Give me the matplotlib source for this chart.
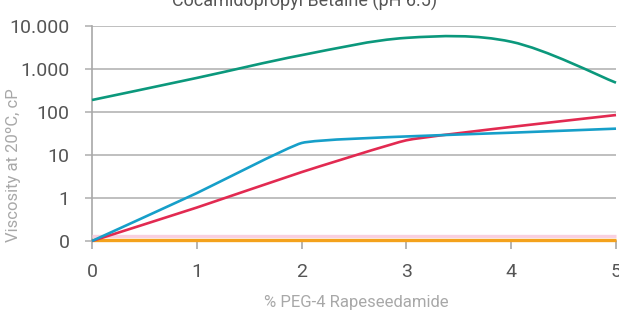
import numpy as np
import matplotlib
matplotlib.use("Agg")
import matplotlib.pyplot as plt
from matplotlib import font_manager
from matplotlib.path import Path
from matplotlib.patches import PathPatch

## Data (viscosity in cP, 0.1 stands for the "0" floor)
peg_pct = [0, 1, 2, 3, 4, 5]
visc_green = [190, 620, 2100, 5300, 4300, 480]
visc_blue = [0.1, 1.3, 19, 27, 33, 41]
visc_red = [0.1, 0.6, 4.0, 22, 45, 85]
visc_pink = [0.132, 0.132, 0.132, 0.132, 0.132, 0.132]
visc_orange = [0.104, 0.104, 0.104, 0.104, 0.104, 0.104]
y_ticks = [0.1, 1, 10, 100, 1000, 10000]
y_labels = ["0", "1", "10", "100", "1.000", "10.000"]

names = [f.name for f in font_manager.fontManager.ttflist]
fam = "Liberation Sans Narrow" if "Liberation Sans Narrow" in names else "Roboto"
plt.rcParams['font.family'] = [fam, 'DejaVu Sans']

def smooth_path(ax, xs, ys, color, lw, k):
	## Catmull-Rom style smoothing in x / log10(y) space, k = tension factor
	x = np.array(xs, dtype=float)
	ly = np.log10(np.array(ys, dtype=float))
	n = len(x)
	verts = [(x[0], ly[0])]
	codes = [Path.MOVETO]
	for i in range(n-1):
		p0 = i-1 if i > 0 else i
		p3 = i+2 if i+2 < n else i+1
		c1 = (x[i] + (x[i+1]-x[p0])*k, ly[i] + (ly[i+1]-ly[p0])*k)
		c2 = (x[i+1] - (x[p3]-x[i])*k, ly[i+1] - (ly[p3]-ly[i])*k)
		verts += [c1, c2, (x[i+1], ly[i+1])]
		codes += [Path.CURVE4]*3
	verts = [(vx, 10**vy) for vx, vy in verts]
	ax.add_patch(PathPatch(Path(verts, codes), fill=False, edgecolor=color, lw=lw,
		clip_on=False, zorder=4, capstyle='butt', joinstyle='round'))

fig = plt.figure(figsize=(6.19, 3.11), dpi=100)
ax = fig.add_axes([92/619, 1-241/311, (616-92)/619, (241-26)/311])
ax.set_yscale('log')
ax.set_xlim(0, 5)
ax.set_ylim(0.1, 10000)

ax.plot(peg_pct, visc_pink, color='#f9d0e0', lw=2.4, clip_on=False, zorder=3, solid_capstyle='butt')
ax.plot(peg_pct, visc_orange, color='#f4a21c', lw=2.4, clip_on=False, zorder=3, solid_capstyle='butt')
smooth_path(ax, peg_pct, visc_red, '#e22a51', 1.9, 1/16)
smooth_path(ax, peg_pct, visc_blue, '#169fc9', 1.9, 1/16)
smooth_path(ax, peg_pct, visc_green, '#0b987c', 1.9, 1/6)

ax.set_yticks(y_ticks)
ax.set_yticklabels(y_labels)
ax.yaxis.set_minor_locator(matplotlib.ticker.NullLocator())
ax.set_xticks(peg_pct)
ax.set_xticklabels([str(v) for v in peg_pct])
ax.grid(axis='y', color='#b4b4b4', lw=1.2)
ax.set_axisbelow(True)
ax.tick_params(axis='y', length=5, width=1.2, color='#b4b4b4', pad=11, labelsize=14, labelcolor='#555555')
ax.tick_params(axis='x', length=6, width=1.2, color='#a8a8a8', pad=10, labelsize=14, labelcolor='#555555')
for s in ['top', 'right']:
	ax.spines[s].set_visible(False)
ax.spines['left'].set_color('#a8a8a8')
ax.spines['bottom'].set_color('#a8a8a8')
ax.spines['left'].set_linewidth(1.2)
ax.spines['bottom'].set_linewidth(1.2)

fig.text(14/619, 1-165/311, "Viscosity at 20ºC, cP", rotation=90, ha='center', va='center',
	fontsize=12, color='#a8a8a8')
fig.text(356/619, 1-303/311, "% PEG-4 Rapeseedamide", ha='center', va='center',
	fontsize=12, color='#a8a8a8')
fig.text(305/619, 1-1/311, "Cocamidopropyl Betaine (pH 6.5)", ha='center', va='center',
	fontsize=13, color='#555555')

fig.savefig("out.png", dpi=100)
